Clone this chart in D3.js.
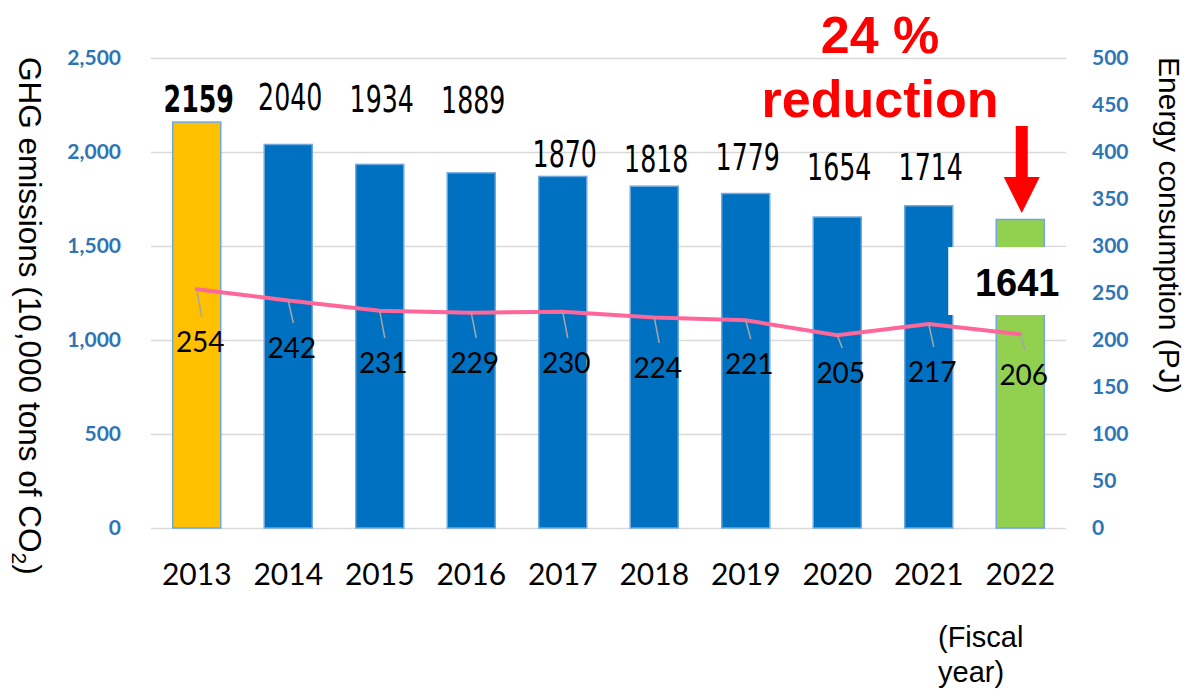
<!DOCTYPE html>
<html>
<head>
<meta charset="utf-8">
<script src="https://cdn.jsdelivr.net/npm/d3@7/dist/d3.min.js"></script>
<style>
    body { margin: 0; background: #ffffff; }
    svg { display: block; }
</style>
</head>
<body>
<svg id="canvas"></svg>
<script>
"use strict"

// Chart data
const fiscalYears = ["2013", "2014", "2015", "2016", "2017", "2018", "2019", "2020", "2021", "2022"];
const ghgEmissions = [2159, 2040, 1934, 1889, 1870, 1818, 1779, 1654, 1714, 1641];
const energyConsumption = [254, 242, 231, 229, 230, 224, 221, 205, 217, 206];
const ghgTicks = [0, 500, 1000, 1500, 2000, 2500];
const energyTicks = [0, 50, 100, 150, 200, 250, 300, 350, 400, 450, 500];

// Hand placed label baselines (pixels), as in the original slide
const barLabelBaseline = [112, 110, 112, 113, 167, 172, 170, 180, 180];
const lineLabelBaseline = [352, 358, 373, 373, 373, 378, 374, 383, 382, 385];

const canvasWidth = 1186;
const canvasHeight = 691;
const plot = { left: 151, right: 1066, top: 58, bottom: 528 };
const tickBlue = "#2E75B6";
const narrowFont = "'Liberation Sans Narrow', 'DejaVu Sans Condensed', 'Liberation Sans', sans-serif";

const canvas = d3.select("#canvas")
    .attr("width", canvasWidth)
    .attr("height", canvasHeight);

// Scales
const x = d3.scaleBand()
    .domain(fiscalYears)
    .range([plot.left, plot.right])
    .paddingInner(0.475)
    .paddingOuter(0.2375);

const yLeft = d3.scaleLinear()
    .domain([0, 2500])
    .range([plot.bottom, plot.top]);

const yRight = d3.scaleLinear()
    .domain([0, 500])
    .range([plot.bottom, plot.top]);

const cx = d => x(d) + x.bandwidth() / 2;

// Gridlines
canvas.append("g")
    .attr("transform", `translate(${plot.left},0)`)
    .call(d3.axisLeft(yLeft).tickValues(ghgTicks).tickSize(-(plot.right - plot.left)).tickFormat(""))
    .call(g => g.select(".domain").remove())
    .call(g => g.selectAll("line").attr("stroke", "#D9D9D9").attr("stroke-width", 1.5));

// Left tick labels
canvas.append("g")
    .attr("transform", `translate(${plot.left},0)`)
    .call(d3.axisLeft(yLeft).tickValues(ghgTicks).tickSize(0).tickPadding(30).tickFormat(d3.format(",")))
    .call(g => g.select(".domain").remove())
    .call(g => g.selectAll("text")
        .attr("fill", tickBlue)
        .attr("font-family", "Lato, 'Open Sans', sans-serif")
        .attr("font-weight", "bold")
        .attr("font-size", 21));

// Right tick labels
canvas.append("g")
    .attr("transform", `translate(${plot.right},0)`)
    .call(d3.axisRight(yRight).tickValues(energyTicks).tickSize(0).tickPadding(26))
    .call(g => g.select(".domain").remove())
    .call(g => g.selectAll("text")
        .attr("fill", tickBlue)
        .attr("font-family", "Lato, 'Open Sans', sans-serif")
        .attr("font-weight", "bold")
        .attr("font-size", 21));

// Bottom axis (years)
canvas.append("g")
    .attr("transform", `translate(0,${plot.bottom})`)
    .call(d3.axisBottom(x).tickSize(0).tickPadding(36))
    .call(g => g.select(".domain").remove())
    .call(g => g.selectAll("text")
        .attr("fill", "#000000")
        .attr("font-family", "Lato, 'Open Sans', sans-serif")
        .attr("font-size", 30));

// Bars
const last = fiscalYears.length - 1;
canvas.append("g")
    .selectAll("rect")
    .data(ghgEmissions)
    .join("rect")
    .attr("x", (d, i) => x(fiscalYears[i]))
    .attr("y", d => yLeft(d))
    .attr("width", x.bandwidth())
    .attr("height", d => yLeft(0) - yLeft(d))
    .attr("fill", (d, i) => i === 0 ? "#FFC000" : (i === last ? "#92D050" : "#0070C0"))
    .attr("stroke", "#6FA8DC")
    .attr("stroke-width", 1.5);

// Bar value labels (all but the last, which gets its own box)
canvas.append("g")
    .selectAll("text")
    .data(ghgEmissions.slice(0, last))
    .join("text")
    .attr("transform", (d, i) => `translate(${cx(fiscalYears[i]) + 2},${barLabelBaseline[i]}) scale(0.76,1)`)
    .attr("text-anchor", "middle")
    .attr("font-family", narrowFont)
    .attr("font-size", 37)
    .attr("font-weight", (d, i) => i === 0 ? "bold" : "normal")
    .attr("fill", "#000000")
    .text(d => d);

// Energy consumption line
canvas.append("path")
    .datum(energyConsumption)
    .attr("fill", "none")
    .attr("stroke", "#FF6699")
    .attr("stroke-width", 4)
    .attr("stroke-linejoin", "round")
    .attr("stroke-linecap", "round")
    .attr("d", d3.line()
        .x((d, i) => cx(fiscalYears[i]))
        .y(d => yRight(d)));

// Leader lines and line labels
canvas.append("g")
    .selectAll("line")
    .data(energyConsumption)
    .join("line")
    .attr("x1", (d, i) => cx(fiscalYears[i]))
    .attr("y1", d => yRight(d))
    .attr("x2", (d, i) => cx(fiscalYears[i]) + 5)
    .attr("y2", (d, i) => lineLabelBaseline[i] - 35)
    .attr("stroke", "#A6A6A6")
    .attr("stroke-width", 1.5);

canvas.append("g")
    .selectAll("text")
    .data(energyConsumption)
    .join("text")
    .attr("x", (d, i) => cx(fiscalYears[i]) + 3.5)
    .attr("y", (d, i) => lineLabelBaseline[i])
    .attr("text-anchor", "middle")
    .attr("font-family", "Lato, 'Open Sans', sans-serif")
    .attr("font-size", 28)
    .attr("fill", "#000000")
    .text(d => d);

// Highlight box for the latest year
const lastX = x(fiscalYears[last]);
canvas.append("rect")
    .attr("x", lastX - 48)
    .attr("y", 247)
    .attr("width", plot.right - (lastX - 48))
    .attr("height", 68)
    .attr("fill", "#ffffff");

canvas.append("text")
    .attr("x", cx(fiscalYears[last]) - 3)
    .attr("y", 296)
    .attr("text-anchor", "middle")
    .attr("font-family", "'Liberation Sans', Arial, sans-serif")
    .attr("font-weight", "bold")
    .attr("font-size", 38)
    .attr("fill", "#000000")
    .text(ghgEmissions[last]);

// Reduction callout
const reduction = Math.round((1 - ghgEmissions[last] / ghgEmissions[0]) * 100);
const callout = canvas.append("g")
    .attr("font-family", "'Liberation Sans', Arial, sans-serif")
    .attr("font-weight", "bold")
    .attr("font-size", 52)
    .attr("fill", "#FF0000")
    .attr("text-anchor", "middle");
callout.append("text").attr("x", 880).attr("y", 53).text(`${reduction} %`);
callout.append("text").attr("x", 880).attr("y", 117).text("reduction");

// Red arrow pointing at the last bar
const ax = cx(fiscalYears[last]) + 1.5;
canvas.append("path")
    .attr("fill", "#FF0000")
    .attr("d", `M${ax - 6},126 H${ax + 6} V177 H${ax + 18} L${ax},213 L${ax - 18},177 H${ax - 6} Z`);

// Axis titles
const leftTitle = canvas.append("text")
    .attr("transform", "translate(19,57) rotate(90)")
    .attr("font-family", "'Liberation Sans', Arial, sans-serif")
    .attr("font-size", 31.5)
    .attr("fill", "#000000");
leftTitle.append("tspan").text("GHG emissions (10,000 tons of CO");
leftTitle.append("tspan").attr("font-size", 21).attr("dy", 7).text("2");
leftTitle.append("tspan").attr("dy", -7).text(")");

canvas.append("text")
    .attr("transform", "translate(1159,57) rotate(90)")
    .attr("font-family", "'Liberation Sans', Arial, sans-serif")
    .attr("font-size", 30)
    .attr("fill", "#000000")
    .text("Energy consumption (PJ)");

// Fiscal year note
const note = canvas.append("text")
    .attr("font-family", "'Liberation Sans', Arial, sans-serif")
    .attr("font-size", 29)
    .attr("fill", "#000000");
note.append("tspan").attr("x", 938).attr("y", 647).text("(Fiscal");
note.append("tspan").attr("x", 938).attr("y", 682).text("year)");
</script>
</body>
</html>
